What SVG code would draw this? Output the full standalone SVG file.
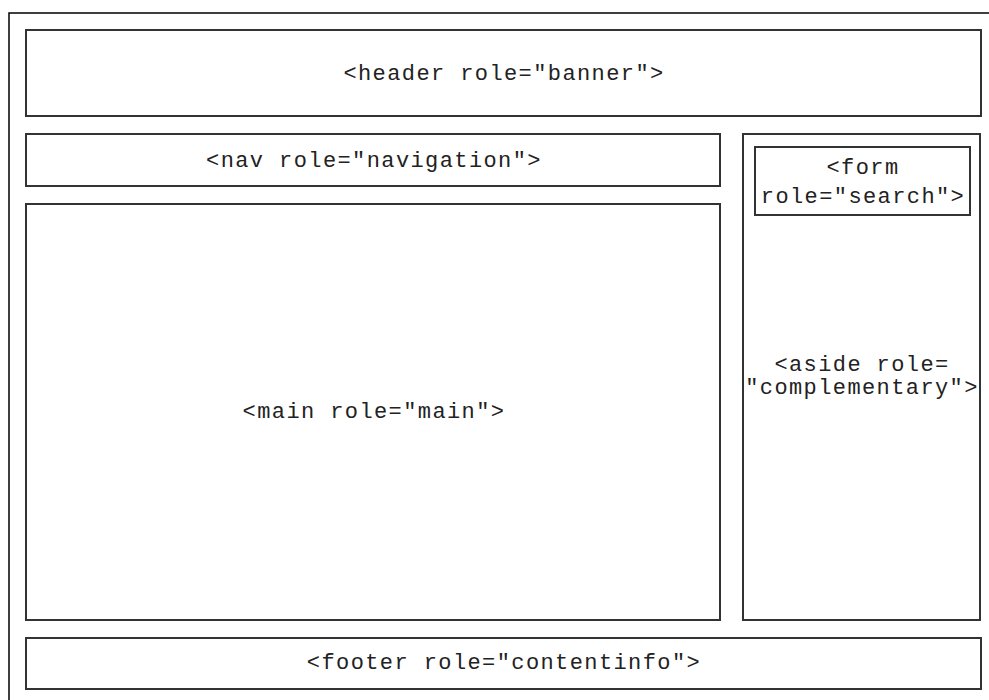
<svg xmlns="http://www.w3.org/2000/svg" width="989" height="700" viewBox="0 0 989 700">
  <style>
    .page { fill: #ffffff; stroke: #000000; stroke-width: 1.5; }
    .box { fill: #ffffff; stroke: #333333; stroke-width: 2; }
    .label { font-family: "Liberation Mono", "Courier New", monospace; font-size: 22px; letter-spacing: 1.4px; fill: #222222; text-anchor: middle; }
  </style>
  <rect width="989" height="700" fill="#ffffff"/>
  <!-- page outline -->
  <rect class="page" x="9" y="13" width="990" height="700"/>

  <g id="header">
    <rect class="box" x="26" y="30" width="955" height="86"/>
    <text class="label" x="504" y="80">&lt;header role="banner"&gt;</text>
  </g>

  <g id="nav">
    <rect class="box" x="26" y="134" width="694" height="52"/>
    <text class="label" x="374" y="167">&lt;nav role="navigation"&gt;</text>
  </g>

  <g id="main">
    <rect class="box" x="26" y="204" width="694" height="416"/>
    <text class="label" x="374" y="418">&lt;main role="main"&gt;</text>
  </g>

  <g id="aside">
    <rect class="box" x="743" y="134" width="237" height="486"/>
    <text class="label" x="862" y="371">&lt;aside role=</text>
    <text class="label" x="862" y="394">"complementary"&gt;</text>
  </g>

  <g id="form">
    <rect class="box" x="755" y="147" width="215" height="68"/>
    <text class="label" x="863" y="174">&lt;form</text>
    <text class="label" x="863" y="203">role="search"&gt;</text>
  </g>

  <g id="footer">
    <rect class="box" x="26" y="638" width="955" height="51"/>
    <text class="label" x="504" y="669">&lt;footer role="contentinfo"&gt;</text>
  </g>

  <g id="connectors"/>
</svg>
